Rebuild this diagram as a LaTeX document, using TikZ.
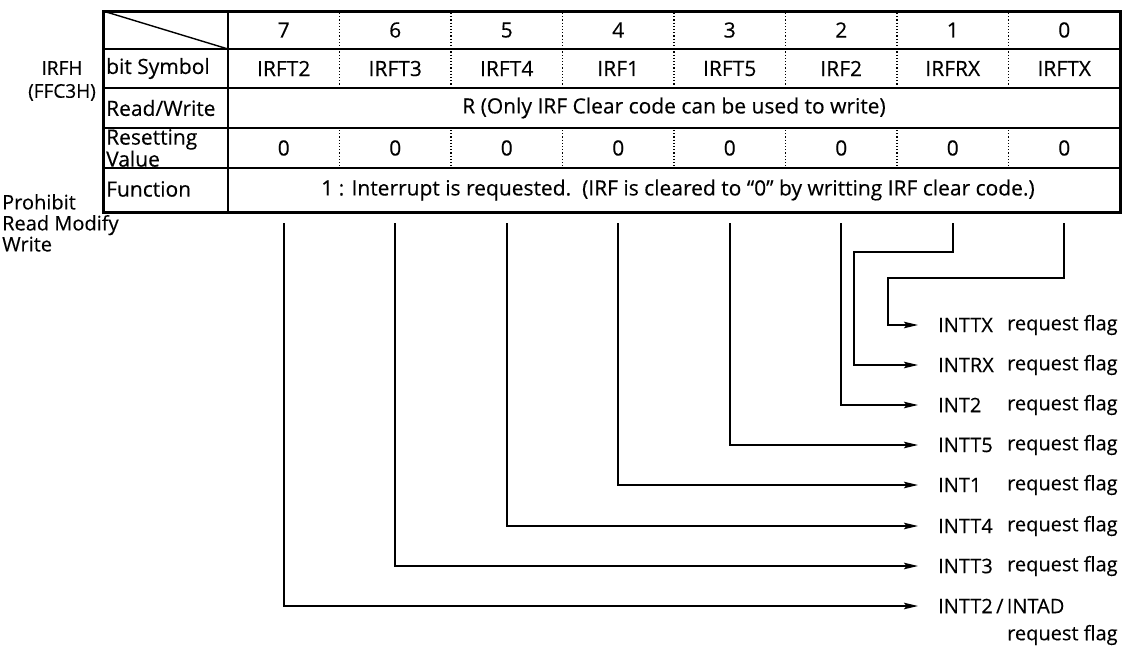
\documentclass[tikz,border=0pt]{standalone}
\usepackage{fontspec}
\setmainfont{Open Sans}[FakeBold=0.3]
\usetikzlibrary{arrows.meta}
\begin{document}
\begin{tikzpicture}[x=1pt,y=-1pt,
  font=\fontsize{21}{22}\selectfont,
  txt/.style={inner sep=0pt},
  outer/.style={line width=3pt},
  rowline/.style={line width=2pt},
  sep/.style={dotted, line width=1.2pt},
  conn/.style={line width=1.7pt},
  arr/.style={conn, -{Stealth[length=14pt,width=6.5pt,inset=2.5pt]}},
  lbl/.style={anchor=west, inner sep=0pt},
  flag/.style={lbl, font=\fontsize{20}{22}\selectfont}]
\useasboundingbox (0,0) rectangle (1125,653);
% table frame
\draw[rowline] (103,49) -- (1120,49);
\draw[rowline] (103,88) -- (1120,88);
\draw[rowline] (103,128) -- (1120,128);
\draw[rowline] (103,168) -- (1120,168);
\draw[rowline] (228,11) -- (228,212);
\draw[line width=1.4pt] (103,11) -- (228,49);
\draw[outer] (103,11) rectangle (1120,212);
\foreach \i in {1,...,7} {
  \pgfmathsetmacro\sx{228+111.5*\i}
  \draw[sep] (\sx,13) -- (\sx,86);
  \draw[sep] (\sx,130) -- (\sx,166);
}
% cells
\foreach \b/\s [count=\i from 0] in {7/IRFT2,6/IRFT3,5/IRFT4,4/IRF1,3/IRFT5,2/IRF2,1/IRFRX,0/IRFTX} {
  \pgfmathsetmacro\cx{228+111.5*(\i+0.5)}
  \node[txt] (h\b) at (\cx,30) {\b};
  \node[txt] (s\b) at (\cx,68.5) {\s};
  \node[txt] (r\b) at (\cx,148) {0};
  \coordinate (b\b) at (\cx,223);
}
\node[txt] (rw) at (674,108) {R (Only IRF Clear code can be used to write)};
\node[txt] (fn) at (678,190) {1 : Interrupt is requested.\ \ (IRF is cleared to “0” by writting IRF clear code.)};
% row labels
\node[lbl] (lsym) at (106,68.5) {bit Symbol};
\node[lbl] (lrw) at (106,108) {Read/Write};
\node[lbl, align=left, font=\fontsize{21}{19.5}\selectfont] (lres) at (106,148) {Resetting\\Value};
\node[lbl] (lfn) at (106,189) {Function};
\node[txt, align=center, font=\fontsize{19}{23}\selectfont] (reg) at (62,81) {IRFH\\(FFC3H)};
\node[anchor=north west, inner sep=0pt, align=left, font=\fontsize{20}{21}\selectfont] (prw) at (2,194) {Prohibit\\Read Modify\\Write};
% flag labels
\foreach \n/\t/\y in {tx/INTTX/325, rx/INTRX/365, i2/INT2/405, t5/INTT5/445, i1/INT1/485, t4/INTT4/526, t3/INTT3/566} {
  \node[flag] (n\n) at (938,\y) {\t};
  \node[flag] (f\n) at (1007,\y) {request flag};
}
\node[flag] (nt2) at (938,606) {INTT2\,/\,INTAD};
\node[flag] (ft2) at (1007,635) {request flag};
% connectors
\coordinate (k0) at (888,278);
\coordinate (k1) at (854,252);
\draw[arr] (b0) |- (k0) |- ([xshift=-20pt]ntx.west);
\draw[arr] (b1) |- (k1) |- ([xshift=-20pt]nrx.west);
\draw[arr] (b2) |- ([xshift=-20pt]ni2.west);
\draw[arr] (b3) |- ([xshift=-20pt]nt5.west);
\draw[arr] (b4) |- ([xshift=-20pt]ni1.west);
\draw[arr] (b5) |- ([xshift=-20pt]nt4.west);
\draw[arr] (b6) |- ([xshift=-20pt]nt3.west);
\draw[arr] (b7) |- ([xshift=-20pt]nt2.west);
\end{tikzpicture}
\end{document}
